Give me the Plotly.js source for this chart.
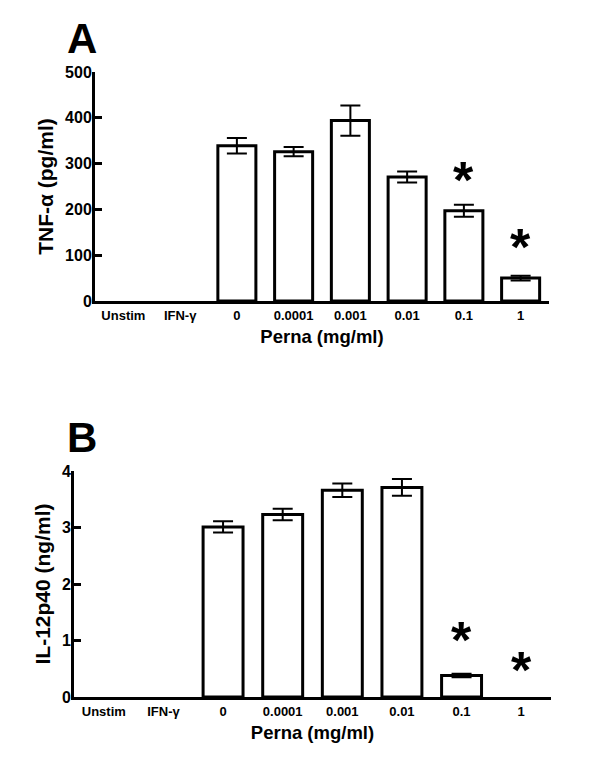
<!DOCTYPE html>
<html>
<head>
<meta charset="utf-8">
<script src="https://cdn.plot.ly/plotly-3.0.1.min.js"></script>
<style>
html,body{margin:0;padding:0;background:#fff;}
#chart{width:600px;height:775px;}
</style>
</head>
<body>
<div id="chart"></div>
<script>
// Categories (x tick labels)
const categories = ["Unstim", "IFN-\u03b3", "0", "0.0001", "0.001", "0.01", "0.1", "1"];

// Panel A: TNF-alpha (pg/ml)
const tnfMean = [0, 0, 339, 326, 394, 271, 197, 50];
const tnfErr  = [0, 0, 17, 10, 33, 12, 13, 5];
const tnfStarY = [null, null, null, null, null, null, 280, 133];
const tnfTicks = [0, 100, 200, 300, 400, 500];

// Panel B: IL-12p40 (ng/ml)
const il12Mean = [0, 0, 3.01, 3.23, 3.66, 3.71, 0.38, 0];
const il12Err  = [0, 0, 0.10, 0.10, 0.12, 0.15, 0.03, 0];
const il12StarY = [null, null, null, null, null, null, 1.13, 0.6];
const il12Ticks = [0, 1, 2, 3, 4];

const FONT = "Liberation Sans, Arial, Helvetica, sans-serif";

function barTrace(y, err, xa, ya) {
  return {
    type: "bar",
    x: categories,
    y: y,
    xaxis: xa, yaxis: ya,
    width: 0.67,
    marker: {color: "#ffffff", line: {color: "#000000", width: y.map(v => v === 0 ? 0 : 3)}},
    error_y: {type: "data", array: err.map((e, i) => y[i] === 0 ? NaN : e), visible: true, color: "#000000", thickness: 2, width: 10},
    hoverinfo: "none",
    showlegend: false
  };
}

const traces = [
  barTrace(tnfMean, tnfErr, "x", "y"),
  barTrace(il12Mean, il12Err, "x2", "y2")
];

const annotations = [];
function addStars(starY, xref, yref) {
  starY.forEach((v, i) => {
    if (v === null) return;
    annotations.push({
      x: i, y: v, xref: xref, yref: yref,
      text: "*", showarrow: false,
      font: {family: FONT, size: 52, color: "#000", weight: "bold"},
      xanchor: "center", yanchor: "middle", yshift: -7
    });
  });
}
addStars(tnfStarY, "x", "y");
addStars(il12StarY, "x2", "y2");

annotations.push({
  text: "A", xref: "paper", yref: "paper", x: 82/600, y: 1 - 38/775,
  xanchor: "center", yanchor: "middle", showarrow: false,
  font: {family: FONT, size: 42, color: "#000", weight: "bold"}
});
annotations.push({
  text: "B", xref: "paper", yref: "paper", x: 82/600, y: 1 - 437/775,
  xanchor: "center", yanchor: "middle", showarrow: false,
  font: {family: FONT, size: 42, color: "#000", weight: "bold"}
});

function xAxis(domain, anchor) {
  return {
    domain: domain, anchor: anchor,
    type: "category",
    range: [-0.5, 7.5],
    showline: true, linecolor: "#000", linewidth: 3,
    ticks: "", showgrid: false, zeroline: false,
    tickfont: {family: FONT, size: 13, color: "#000", weight: "bold"},
    title: {text: "Perna (mg/ml)", font: {family: FONT, size: 18.5, color: "#000", weight: "bold"}, standoff: 9},
    automargin: false
  };
}
function yAxis(domain, anchor, range, ticks, title) {
  return {
    domain: domain, anchor: anchor,
    range: range,
    tickmode: "array", tickvals: ticks, ticktext: ticks.map(String),
    showline: true, linecolor: "#000", linewidth: 3,
    ticks: "inside", ticklen: 7, tickwidth: 3, tickcolor: "#000",
    ticklabelstandoff: -3,
    showgrid: false, zeroline: false,
    tickfont: {family: FONT, size: 16, color: "#000", weight: "bold"},
    title: {text: title, font: {family: FONT, size: 21, color: "#000", weight: "bold"}, standoff: 6},
    automargin: false
  };
}

const layout = {
  width: 600, height: 775,
  margin: {l: 0, r: 0, t: 0, b: 0},
  paper_bgcolor: "#fff", plot_bgcolor: "#fff",
  showlegend: false,
  bargap: 0.33,
  xaxis: xAxis([95/600, 549/600], "y"),
  yaxis: yAxis([474/775, 703/775], "x", [0, 500], tnfTicks, "TNF-\u03b1 (pg/ml)"),
  xaxis2: xAxis([74/600, 551/600], "y2"),
  yaxis2: yAxis([78/775, 304/775], "x2", [0, 4], il12Ticks, "IL-12p40 (ng/ml)"),
  annotations: annotations
};

Plotly.newPlot("chart", traces, layout, {displayModeBar: false, staticPlot: true});
</script>
</body>
</html>
